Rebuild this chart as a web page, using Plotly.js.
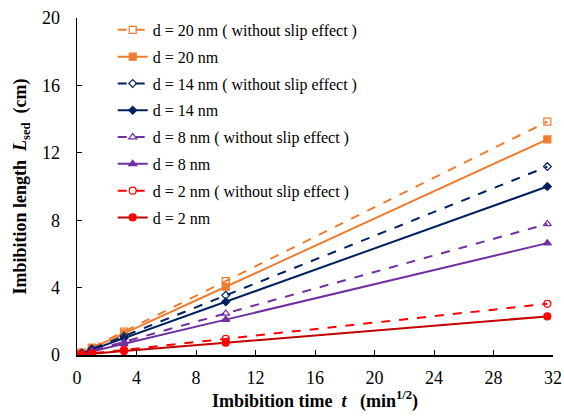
<!DOCTYPE html>
<html><head><meta charset="utf-8">
<script src="https://cdn.plot.ly/plotly-3.0.1.min.js"></script>
<style>
#chart svg text { font-family: 'Liberation Serif', 'Times New Roman', Tinos, 'DejaVu Serif', serif !important; }
</style>
</head><body style="margin:0;padding:0;background:#fff"><div id="chart"></div>
<script>
var timeSqrt = [0, 0.316, 1, 3.162, 10, 31.62];
var names = ["d = 20 nm ( without slip effect )", "d = 20 nm", "d = 14 nm ( without slip effect )", "d = 14 nm", "d = 8 nm ( without slip effect )", "d = 8 nm", "d = 2 nm ( without slip effect )", "d = 2 nm"];
var d20NoSlip = [0, 0.14, 0.44, 1.39, 4.39, 13.85];
var d20 = [0, 0.13, 0.40, 1.28, 4.05, 12.8];
var d14NoSlip = [0, 0.11, 0.35, 1.12, 3.54, 11.18];
var d14 = [0, 0.10, 0.32, 1.00, 3.16, 10.0];
var d8NoSlip = [0, 0.08, 0.25, 0.78, 2.47, 7.78];
var d8 = [0, 0.07, 0.21, 0.665, 2.10, 6.64];
var d2NoSlip = [0, 0.03, 0.10, 0.30, 0.96, 3.04];
var d2 = [0, 0.02, 0.07, 0.23, 0.73, 2.29];

var series = [d20NoSlip, d20, d14NoSlip, d14, d8NoSlip, d8, d2NoSlip, d2];
var lineColors = ["#ED7D31", "#ED7D31", "#002060", "#002060", "#7030A0", "#7030A0", "#FF0000", "#C00000"];
var markerColors = ["#ED7D31", "#ED7D31", "#002060", "#002060", "#7030A0", "#7030A0", "#FF0000", "#FF0000"];
var symbols = ["square-open", "square", "diamond-open", "diamond", "triangle-up-open", "triangle-up", "circle-open", "circle"];
var sizes = [7, 7, 6, 6, 7, 7, 7, 7];
var dashes = ["dash", "solid", "dash", "solid", "dash", "solid", "dash", "solid"];

var traces = series.map(function(s, i){
  return {x: timeSqrt, y: s, type: "scatter", mode: "lines+markers", name: names[i],
    legendgroup: "g" + i,
    line: {color: lineColors[i], width: 2, dash: dashes[i]},
    marker: {symbol: symbols[i], size: sizes[i], color: markerColors[i], line: {color: markerColors[i], width: 1.2}}};
});

var layout = {
  width: 564, height: 418,
  margin: {l: 77, r: 11, t: 18, b: 63},
  paper_bgcolor: "#fff", plot_bgcolor: "#fff",
  font: {family: "Liberation Serif", color: "#000", size: 18},
  showlegend: true,
  legend: {x: 0.075, y: 1.015, xanchor: "left", yanchor: "top", bgcolor: "rgba(0,0,0,0)", maxheight: 330,
    font: {family: "Liberation Serif", size: 16, color: "#000"}, traceorder: "grouped", tracegroupgap: 3},
  xaxis: {range: [0, 32], dtick: 4, tick0: 0, showgrid: false, zeroline: false,
    showline: true, linecolor: "#000", linewidth: 1.5, ticks: "inside", ticklen: 5, tickcolor: "#000",
    tickfont: {family: "Liberation Serif", size: 18}, ticklabelstandoff: 6,
    title: {text: "<b>Imbibition time  <i>t</i>   (min<sup>1/2</sup>)</b>", font: {family: "Liberation Serif", size: 18}, standoff: 2}},
  yaxis: {range: [0, 20], dtick: 4, tick0: 0, showgrid: false, zeroline: false,
    showline: true, linecolor: "#000", linewidth: 1.5, ticks: "inside", ticklen: 5, tickcolor: "#000",
    tickfont: {family: "Liberation Serif", size: 18}, ticklabelstandoff: 12,
    title: {text: "<b>Imbibition length  <i>L</i><sub>sed</sub>  (cm)</b>", font: {family: "Liberation Serif", size: 18}, standoff: 10}}
};
Plotly.newPlot("chart", traces, layout, {staticPlot: true});
</script></body></html>
